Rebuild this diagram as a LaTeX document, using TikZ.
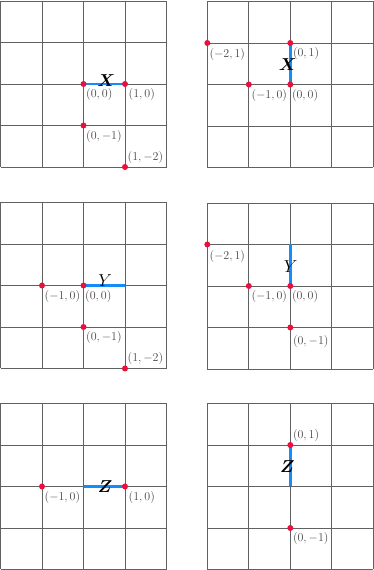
\documentclass[tikz,border=0pt]{standalone}
\usepackage{bm}
\definecolor{segblue}{RGB}{20,140,250}
\definecolor{dotred}{RGB}{232,16,60}
\tikzset{
  gridline/.style={black!62, line width=0.7pt},
  seg/.style={draw=segblue, line width=2.6pt},
  dot/.style={circle, fill=dotred, inner sep=0pt, minimum size=6pt},
  lbl/.style={text=black!72, font=\fontsize{12}{12}\selectfont, inner sep=1pt},
  br/.style={lbl, anchor=north west, xshift=1.5pt, yshift=-3.5pt},
  ar/.style={lbl, anchor=south west, xshift=1.5pt, yshift=2.5pt},
  letter/.style={font=\fontsize{16}{16}\selectfont, inner sep=0pt},
  panel/.style={x=41.5pt, y=41.5pt}
}
\newcommand\mygridpanel{%
  \foreach \k in {-2,...,2} {
    \draw[gridline] (\k,-2) -- (\k,2);
    \draw[gridline] (-2,\k) -- (2,\k);
  }%
}
\begin{document}
\begin{tikzpicture}
\useasboundingbox (0,0) rectangle (374pt,570pt);
% Panel 1
\begin{scope}[panel, shift={(83.5pt,486pt)}]
  \mygridpanel
  \draw[seg] (0,0) -- (1,0);
  \node[dot] (a00) at (0,0) {};
  \node[dot] (a10) at (1,0) {};
  \node[dot] (a0m1) at (0,-1) {};
  \node[dot] (a1m2) at (1,-2) {};
  \node[br] (la00) at (a00.center) {$(0,0)$};
  \node[br, xshift=1pt] (la10) at (a10.center) {$(1,0)$};
  \node[br] (la0m1) at (a0m1.center) {$(0,-1)$};
  \node[ar] (la1m2) at (a1m2.center) {$(1,-2)$};
  \node[letter] (aX) at (0.55,0.09) {$\bm{X}$};
\end{scope}
% Panel 2
\begin{scope}[panel, shift={(290.3pt,485.5pt)}]
  \mygridpanel
  \draw[seg] (0,0) -- (0,1);
  \node[dot] (bm21) at (-2,1) {};
  \node[dot] (b01) at (0,1) {};
  \node[dot] (bm10) at (-1,0) {};
  \node[dot] (b00) at (0,0) {};
  \node[br, yshift=-1pt, xshift=-0.5pt] (lbm21) at (bm21.center) {$(-2,1)$};
  \node[br] (lb01) at (b01.center) {$(0,1)$};
  \node[br] (lbm10) at (bm10.center) {$(-1,0)$};
  \node[br, xshift=-1pt] (lb00) at (b00.center) {$(0,0)$};
  \node[letter] (bX) at (-0.06,0.47) {$\bm{X}$};
\end{scope}
% Panel 3
\begin{scope}[panel, shift={(83.5pt,284.5pt)}]
  \mygridpanel
  \draw[seg] (0,0) -- (1,0);
  \node[dot] (cm10) at (-1,0) {};
  \node[dot] (c00) at (0,0) {};
  \node[dot] (c0m1) at (0,-1) {};
  \node[dot] (c1m2) at (1,-2) {};
  \node[br] (lcm10) at (cm10.center) {$(-1,0)$};
  \node[br, xshift=-1pt] (lc00) at (c00.center) {$(0,0)$};
  \node[br] (lc0m1) at (c0m1.center) {$(0,-1)$};
  \node[ar] (lc1m2) at (c1m2.center) {$(1,-2)$};
  \node[letter] (cY) at (0.52,0.12) {$Y$};
\end{scope}
% Panel 4
\begin{scope}[panel, shift={(290.3pt,284pt)}]
  \mygridpanel
  \draw[seg] (0,0) -- (0,1);
  \node[dot] (dm21) at (-2,1) {};
  \node[dot] (dm10) at (-1,0) {};
  \node[dot] (d00) at (0,0) {};
  \node[dot] (d0m1) at (0,-1) {};
  \node[br, yshift=-1pt, xshift=-0.5pt] (ldm21) at (dm21.center) {$(-2,1)$};
  \node[br] (ldm10) at (dm10.center) {$(-1,0)$};
  \node[br, xshift=-1pt] (ld00) at (d00.center) {$(0,0)$};
  \node[br, yshift=-3pt] (ld0m1) at (d0m1.center) {$(0,-1)$};
  \node[letter] (dY) at (0.01,0.47) {$Y$};
\end{scope}
% Panel 5
\begin{scope}[panel, shift={(83.5pt,83.5pt)}]
  \mygridpanel
  \draw[seg] (0,0) -- (1,0);
  \node[dot] (em10) at (-1,0) {};
  \node[dot] (e10) at (1,0) {};
  \node[br] (lem10) at (em10.center) {$(-1,0)$};
  \node[br, xshift=1pt] (le10) at (e10.center) {$(1,0)$};
  \node[letter] (eZ) at (0.52,0.0) {$\bm{Z}$};
\end{scope}
% Panel 6
\begin{scope}[panel, shift={(290.3pt,83.5pt)}]
  \mygridpanel
  \draw[seg] (0,0) -- (0,1);
  \node[dot] (f01) at (0,1) {};
  \node[dot] (f0m1) at (0,-1) {};
  \node[ar] (lf01) at (f01.center) {$(0,1)$};
  \node[br] (lf0m1) at (f0m1.center) {$(0,-1)$};
  \node[letter] (fZ) at (-0.07,0.49) {$\bm{Z}$};
\end{scope}
\end{tikzpicture}
\end{document}
